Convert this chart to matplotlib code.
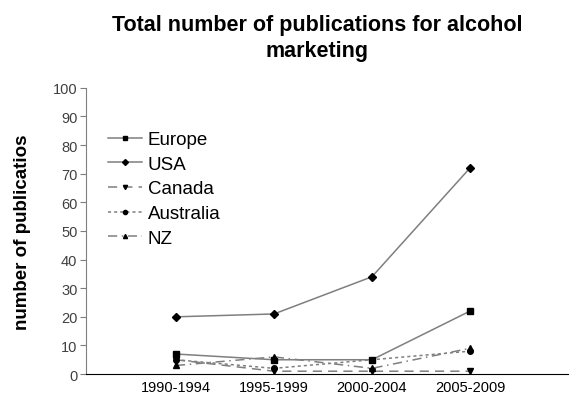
import matplotlib.pyplot as plt

plt.rcParams['font.family'] = ['Liberation Sans', 'DejaVu Sans']

periods = ["1990-1994", "1995-1999", "2000-2004", "2005-2009"]
europe = [7, 5, 5, 22]
usa = [20, 21, 34, 72]
canada = [5, 1, 1, 1]
australia = [5, 2, 5, 8]
nz = [3, 6, 2, 9]

series = [
    ("Europe", europe, "-", "s"),
    ("USA", usa, "-", "D"),
    ("Canada", canada, (0, (6, 4)), "v"),
    ("Australia", australia, (0, (2, 2)), "o"),
    ("NZ", nz, (0, (6, 3, 1, 3)), "^"),
]

fig = plt.figure(figsize=(5.72, 4.02), dpi=100)
ax = fig.add_axes([0.150, 0.067, 0.843, 0.712])

x = list(range(len(periods)))
for name, vals, ls, mk in series:
    ax.plot(x, vals, linestyle=ls, color="#7f7f7f", linewidth=1.1,
            marker=mk, markersize=4, markerfacecolor="black",
            markeredgecolor="black", label=name)

ax.set_xlim(-0.92, 4)
ax.set_ylim(0, 100)
ax.set_yticks(range(0, 101, 10))
ax.set_xticks(x)
ax.set_xticklabels(periods)
ax.tick_params(axis="x", length=0, labelsize=10.5, pad=4)
ax.tick_params(axis="y", length=4, color="#7f7f7f", labelsize=10.5,
               labelcolor="#404040", pad=2)
for s in ["top", "right"]:
    ax.spines[s].set_visible(False)
ax.spines["left"].set_color("#7f7f7f")
ax.spines["bottom"].set_color("black")

ax.set_ylabel("number of publicatios", fontsize=13.5, fontweight="bold", labelpad=16)
fig.suptitle("Total number of publications for alcohol\nmarketing",
             x=0.555, y=0.962, fontsize=15.5, fontweight="bold", linespacing=1.3)

ax.legend(loc="upper left", bbox_to_anchor=(0.175, 0.69), bbox_transform=fig.transFigure,
          frameon=False, fontsize=13.5, handlelength=1.85, labelspacing=0.4,
          handletextpad=0.3, borderaxespad=0, markerscale=0.75)

fig.savefig("out.png", dpi=100)
